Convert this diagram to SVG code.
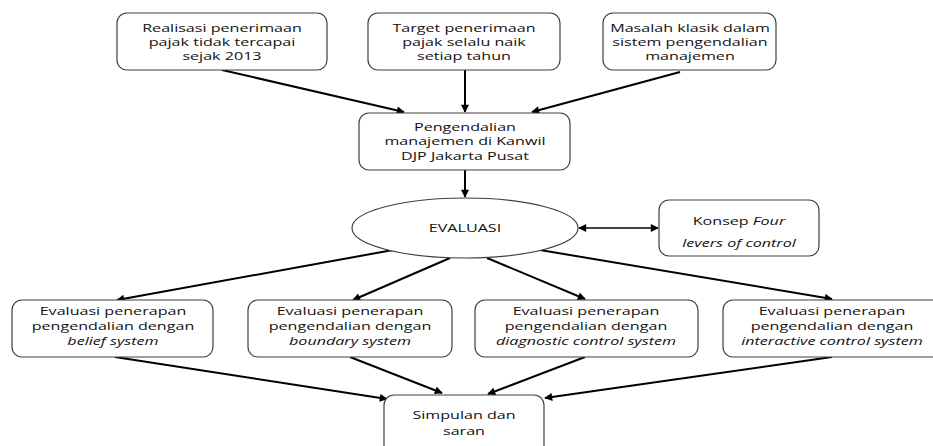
<svg xmlns="http://www.w3.org/2000/svg" width="933" height="446" viewBox="0 0 933 446">
<style>
.box{fill:#fff;stroke:#404040;stroke-width:1.2}
.t{font-family:"Open Sans","DejaVu Sans",sans-serif;font-size:11.5px;fill:#111;text-anchor:middle}
.i{font-style:italic}
.c{stroke:#000;stroke-width:2;fill:none;marker-end:url(#ah)}
</style>
<defs>
<marker id="ah" viewBox="0 0 10 10" refX="9" refY="5" markerWidth="9" markerHeight="8" markerUnits="userSpaceOnUse" orient="auto-start-reverse">
<path d="M0,0 L10,5 L0,10 z" fill="#000"/>
</marker>
</defs>
<rect width="933" height="446" fill="#fff"/>
<g id="connectors">
<line class="c" x1="222" y1="70" x2="404" y2="112"/>
<line class="c" x1="465" y1="70" x2="465" y2="112"/>
<line class="c" x1="680" y1="72" x2="532" y2="112"/>
<line class="c" x1="465" y1="170" x2="465" y2="197"/>
<line class="c" x1="579" y1="228" x2="658" y2="228" style="marker-start:url(#ah);stroke-width:1.5"/>
<line class="c" x1="393" y1="250" x2="117" y2="300"/>
<line class="c" x1="450" y1="258" x2="353" y2="300"/>
<line class="c" x1="487" y1="258" x2="585" y2="299"/>
<line class="c" x1="540" y1="250" x2="832" y2="299"/>
<line class="c" x1="115" y1="357" x2="387" y2="399"/>
<line class="c" x1="350" y1="357" x2="442" y2="393"/>
<line class="c" x1="585" y1="357" x2="488" y2="394"/>
<line class="c" x1="832" y1="357" x2="545" y2="398"/>
</g>
<g id="n1"><rect class="box" x="117" y="13" width="210" height="57" rx="10"/>
<g transform="scale(1.4 1)"><text class="t" x="158.57" y="32">Realisasi penerimaan</text><text class="t" x="158.57" y="46">pajak tidak tercapai</text><text class="t" x="158.57" y="60">sejak 2013</text></g></g>
<g id="n2"><rect class="box" x="368" y="13" width="192" height="57" rx="10"/>
<g transform="scale(1.4 1)"><text class="t" x="331.43" y="32">Target penerimaan</text><text class="t" x="331.43" y="46">pajak selalu naik</text><text class="t" x="331.43" y="60">setiap tahun</text></g></g>
<g id="n3"><rect class="box" x="603" y="13" width="173" height="57" rx="10"/>
<g transform="scale(1.4 1)"><text class="t" x="492.86" y="32">Masalah klasik dalam</text><text class="t" x="492.86" y="46">sistem pengendalian</text><text class="t" x="492.86" y="60">manajemen</text></g></g>
<g id="n4"><rect class="box" x="359" y="113" width="211" height="57" rx="10"/>
<g transform="scale(1.4 1)"><text class="t" x="332.14" y="131">Pengendalian</text><text class="t" x="332.14" y="145">manajemen di Kanwil</text><text class="t" x="332.14" y="160">DJP Jakarta Pusat</text></g></g>
<g id="n5"><ellipse class="box" cx="465" cy="228" rx="113" ry="30"/>
<g transform="scale(1.4 1)"><text class="t" x="332.14" y="232">EVALUASI</text></g></g>
<g id="n6"><rect class="box" x="659" y="200" width="160" height="56" rx="10"/>
<g transform="scale(1.4 1)"><text class="t" x="527.86" y="225">Konsep <tspan class="i">Four</tspan></text><text class="t i" x="527.86" y="247">levers of control</text></g></g>
<g id="n7"><rect class="box" x="12" y="300" width="201" height="57" rx="10"/>
<g transform="scale(1.4 1)"><text class="t" x="80.71" y="315">Evaluasi penerapan</text><text class="t" x="80.71" y="330">pengendalian dengan</text><text class="t i" x="80.71" y="345">belief system</text></g></g>
<g id="n8"><rect class="box" x="248" y="300" width="204" height="57" rx="10"/>
<g transform="scale(1.4 1)"><text class="t" x="250" y="315">Evaluasi penerapan</text><text class="t" x="250" y="330">pengendalian dengan</text><text class="t i" x="250" y="345">boundary system</text></g></g>
<g id="n9"><rect class="box" x="475" y="300" width="223" height="57" rx="10"/>
<g transform="scale(1.4 1)"><text class="t" x="418.57" y="315">Evaluasi penerapan</text><text class="t" x="418.57" y="330">pengendalian dengan</text><text class="t i" x="418.57" y="345">diagnostic control system</text></g></g>
<g id="n10"><rect class="box" x="723" y="300" width="222" height="57" rx="10"/>
<g transform="scale(1.4 1)"><text class="t" x="594.29" y="315">Evaluasi penerapan</text><text class="t" x="594.29" y="330">pengendalian dengan</text><text class="t i" x="594.29" y="345">interactive control system</text></g></g>
<g id="n11"><rect class="box" x="384" y="395" width="160" height="70" rx="10"/>
<g transform="scale(1.4 1)"><text class="t" x="331.43" y="419">Simpulan dan</text><text class="t" x="331.43" y="435">saran</text></g></g>
</svg>
